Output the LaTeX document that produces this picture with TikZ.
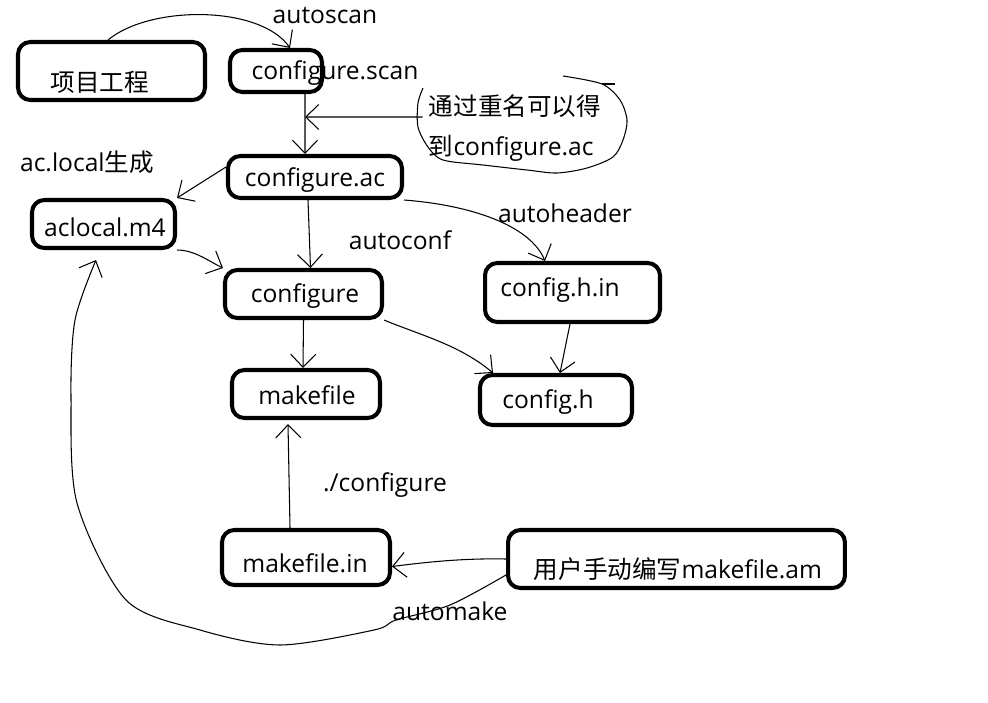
\documentclass[tikz,border=0pt]{standalone}
\usepackage{fontspec}
\setmainfont{Open Sans}
\newfontfamily\cjk{Noto Sans CJK SC}
\usepackage{tikz}
\usetikzlibrary{arrows.meta,positioning,calc}

\begin{document}
\begin{tikzpicture}[x=0.02cm, y=-0.02cm, font=\fontsize{14}{17}\selectfont,
    filebox/.style={draw, line width=2.3pt, rounded corners=7pt, inner sep=0pt},
    flow/.style={-{Straight Barb[length=2.6mm,width=5mm]}, line width=0.6pt},
    ]
    \fill[white] (0,0) rectangle (988,703);
    \useasboundingbox (0,0) rectangle (988,703);
    % boxes
    \node[filebox, minimum width=3.74cm, minimum height=1.16cm] (proj) at (111.5,71) {};
    \node[filebox, minimum width=1.84cm, minimum height=0.84cm] (scan) at (276,71) {};
    \node[filebox, minimum width=3.48cm, minimum height=0.84cm] (ac) at (315,177) {};
    \node[filebox, minimum width=2.86cm, minimum height=0.96cm] (aclocal) at (103.5,224) {};
    \node[filebox, minimum width=3.14cm, minimum height=0.96cm] (conf) at (303.5,294) {};
    \node[filebox, minimum width=3.50cm, minimum height=1.18cm] (hin) at (572.5,292.5) {};
    \node[filebox, minimum width=2.96cm, minimum height=0.96cm] (mf) at (306,394) {};
    \node[filebox, minimum width=3.04cm, minimum height=1.00cm] (ch) at (556,400) {};
    \node[filebox, minimum width=3.36cm, minimum height=1.10cm] (mfin) at (306,557.5) {};
    \node[filebox, minimum width=6.74cm, minimum height=1.16cm] (am) at (676.5,559) {};
    % box texts
    \node (projtxt) at (100,82) {\cjk 项目工程};
    \node (scantxt) at (335,73) {configure.scan};
    \node (actxt) at (315,180) {configure.ac};
    \node (aclocaltxt) at (105,227) {aclocal.m4};
    \node (conftxt) at (305,296) {configure};
    \node (hintxt) at (560,290) {config.h.in};
    \node (mftxt) at (307,395) {makefile};
    \node (chtxt) at (548,402) {config.h};
    \node (mfintxt) at (305,563) {makefile.in};
    \node (amtxt) at (678,569) {{\cjk 用户手动编写}makefile.am};
    % labels
    \node (autoscan) at (325,16) {autoscan};
    \node (aclabel) at (87,162) {ac.local{\cjk 生成}};
    \node (autoconf) at (400,240) {autoconf};
    \node (autoheader) at (565,213) {autoheader};
    \node (runconf) at (385,485) {./configure};
    \node (automake) at (450,611) {automake};
    \node[align=left, font=\fontsize{14}{23}\selectfont] (note) at (515,128)
        {{\cjk 通过重名可以得}\\{\cjk 到}configure.ac};
    \draw[line width=0.6pt] plot[smooth] coordinates {(563,76) (602,84) (620,100) (627,120)
        (623,140) (613,157) (587,168) (557,173) (527,170) (483,165) (443,160) (428,147)
        (418,127) (418,103) (423,88)};
    \draw[line width=0.6pt] (602,84) -- (615,84);
    \coordinate (notetip) at (305,117);
    % connectors
    \draw[flow] ([xshift=-0.07cm]proj.north) .. controls (150,5) and (260,5) .. ([xshift=0.28cm]scan.north);
    \draw[flow] ([xshift=0.58cm]scan.south) -- ([xshift=-0.2cm]ac.north);
    \draw[flow] ([yshift=0.22cm]note.west) -- (notetip);
    \draw[flow] ([yshift=0.2cm]ac.west) -- (aclocal.north east);
    \draw[flow] ([xshift=-0.14cm]ac.south) -- ([xshift=0.14cm]conf.north);
    \draw[flow] (ac.south east) .. controls (470,205) and (530,225) .. ([xshift=-0.55cm]hin.north);
    \draw[flow] (aclocal.south east) .. controls (195,250) and (210,262) .. (conf.north west);
    \draw[flow] (conf.south) -- ([xshift=-0.06cm]mf.north);
    \draw[flow] (conf.south east) .. controls (420,335) and (460,345) .. ([xshift=0.3cm]ch.north west);
    \draw[flow] ([xshift=-0.05cm]hin.south) -- ([xshift=0.08cm]ch.north);
    \draw[flow] ([xshift=-0.32cm]mfin.north) -- ([xshift=-0.36cm,yshift=-0.08cm]mf.south);
    \draw[flow] (am.west) .. controls (460,558) and (420,563) .. ([yshift=-0.18cm]mfin.east);
    \draw[flow] plot[smooth] coordinates {([yshift=-0.32cm]am.west) (450,605) (396,620) (374,630)
        (280,645) (200,630) (126,600) (77,503) (71,397) (75,320) ([xshift=-0.15cm,yshift=-0.2cm]aclocal.south)};
\end{tikzpicture}
\end{document}
